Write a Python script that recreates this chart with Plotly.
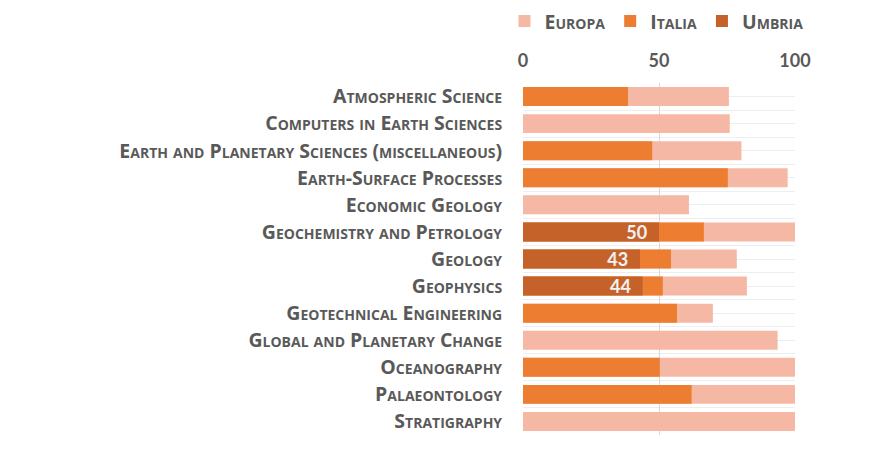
import plotly.graph_objects as go

categories = [
    "Atmospheric Science",
    "Computers in Earth Sciences",
    "Earth and Planetary Sciences (miscellaneous)",
    "Earth-Surface Processes",
    "Economic Geology",
    "Geochemistry and Petrology",
    "Geology",
    "Geophysics",
    "Geotechnical Engineering",
    "Global and Planetary Change",
    "Oceanography",
    "Palaeontology",
    "Stratigraphy",
]
europa = [75.7, 76, 80.3, 97.3, 61, 100, 78.6, 82.3, 69.8, 93.6, 100, 100, 100]
italia = [38.6, None, 47.5, 75.3, None, 66.5, 54.4, 51.4, 56.6, None, 50.3, 62, None]
umbria = [None, None, None, None, None, 50, 43, 44, None, None, None, None, None]
x_ticks = [0, 50, 100]

ypos = list(range(len(categories)))
GREY = "#595959"
FONT = "Lato"
LFONT = "Open Sans"

fig = go.Figure()
fig.add_trace(go.Bar(name="Europa", y=ypos, x=europa, orientation="h",
                     marker=dict(color="#F4B8A4", line=dict(width=0)), width=0.7))
fig.add_trace(go.Bar(name="Italia", y=ypos, x=italia, orientation="h",
                     marker=dict(color="#ED7D31", line=dict(width=0)), width=0.7))
fig.add_trace(go.Bar(name="Umbria", y=ypos, x=umbria, orientation="h",
                     marker=dict(color="#C4622A", line=dict(width=0)), width=0.7,
                     text=[("%d\u00a0\u00a0" % v if v is not None else "") for v in umbria],
                     textposition="inside", insidetextanchor="end", textangle=0,
                     constraintext="none",
                     textfont=dict(family=FONT, size=18, color="#F2F2F2", weight="bold")))

fig.update_layout(
    barmode="overlay",
    width=887, height=452,
    margin=dict(l=515, r=100, t=75, b=25, autoexpand=False),
    paper_bgcolor="white", plot_bgcolor="white",
    showlegend=True,
    legend=dict(orientation="h", x=-0.068, xanchor="left", y=1.175, yanchor="middle",
                font=dict(family=LFONT, size=19.5, color=GREY, weight="bold", variant="small-caps"),
                traceorder="normal", itemwidth=30),
    xaxis=dict(side="top", range=[0, 100], tickvals=x_ticks, showgrid=True,
               gridcolor="#D9D9D9", gridwidth=1, zeroline=False, automargin=False,
               showline=False, ticks="outside", ticklen=8, tickcolor="rgba(0,0,0,0)",
               tickfont=dict(family=FONT, size=18, color=GREY, weight="bold"), fixedrange=True),
    yaxis=dict(tickvals=ypos, ticktext=categories, range=[len(categories) - 0.5, -0.5],
               showgrid=True, gridcolor="#EEEEEE", zeroline=False, automargin=False,
               minor=dict(dtick=0.5, tick0=0.5, showgrid=True, gridcolor="#EEEEEE"),
               ticks="outside", ticklen=16, tickcolor="rgba(0,0,0,0)",
               tickfont=dict(family=LFONT, size=19.5, color=GREY, weight="bold", variant="small-caps")),
)
fig.write_html("out.html")
